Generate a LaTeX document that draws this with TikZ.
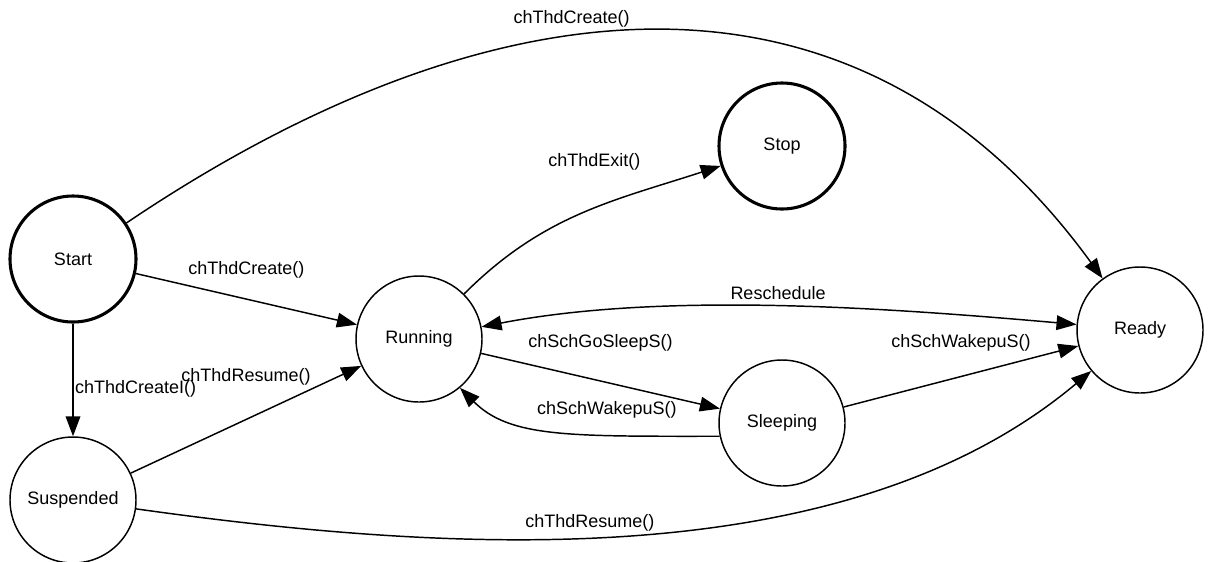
\documentclass[tikz,border=0pt]{standalone}
\usepackage{fontspec}
\setmainfont{Liberation Sans}
\usetikzlibrary{arrows.meta}
\begin{document}
\begin{tikzpicture}[x=.75pt,y=-.75pt,line width=1.1pt,>={Triangle[length=15pt,width=11pt]},
 state/.style={circle,draw,minimum size=94.5pt,inner sep=0pt,font=\fontsize{13.5}{16}\selectfont},
 endstate/.style={state,line width=2.3pt},
 lbl/.style={font=\fontsize{13.5}{16}\selectfont,inner sep=1pt}]
\useasboundingbox (0,0) rectangle (1212,561);
\node[endstate] (start) at (73,259) {Start}; \node[state] (suspended) at (73,500) {Suspended};
\node[state] (running) at (419,339) {Running}; \node[endstate] (stop) at (782,146) {Stop};
\node[state] (sleeping) at (782,423) {Sleeping}; \node[state] (ready) at (1140,330) {Ready};
\draw[->] (start) to[out=34,in=126,looseness=1.12] node[lbl,pos=.42,yshift=13pt] (l1) {chThdCreate()} (ready);
\draw[->] (start) -- node[lbl,midway,yshift=22pt] (l2) {chThdCreate()} (running);
\draw[->] (start) -- node[lbl,right,pos=.58] (l3) {chThdCreateI()} (suspended);
\draw[->] (suspended) -- node[lbl,midway,yshift=32pt] (l4) {chThdResume()} (running);
\draw[->] (suspended) to[out=-8,in=-140,looseness=.85] node[lbl,pos=.45,yshift=11pt] (l5) {chThdResume()} (ready);
\draw[->] (running) to[out=45,in=198] node[lbl,pos=.55,yshift=34.5pt] (l6) {chThdExit()} (stop);
\draw[<->] (running) to[out=11,in=175,looseness=.8] node[lbl,midway,yshift=10pt] (l7) {Reschedule} (ready);
\draw[->] (running) -- node[lbl,midway,yshift=28.5pt] (l8) {chSchGoSleepS()} (sleeping);
\draw[->] (sleeping.192) .. controls +(-150,0) and +(50,50) .. node[lbl,pos=.3,yshift=18.75pt] (l9) {chSchWakepuS()} (running.-50);
\draw[->] (sleeping) -- node[lbl,midway,yshift=25.5pt] (l10) {chSchWakepuS()} (ready);
\end{tikzpicture}
\end{document}
